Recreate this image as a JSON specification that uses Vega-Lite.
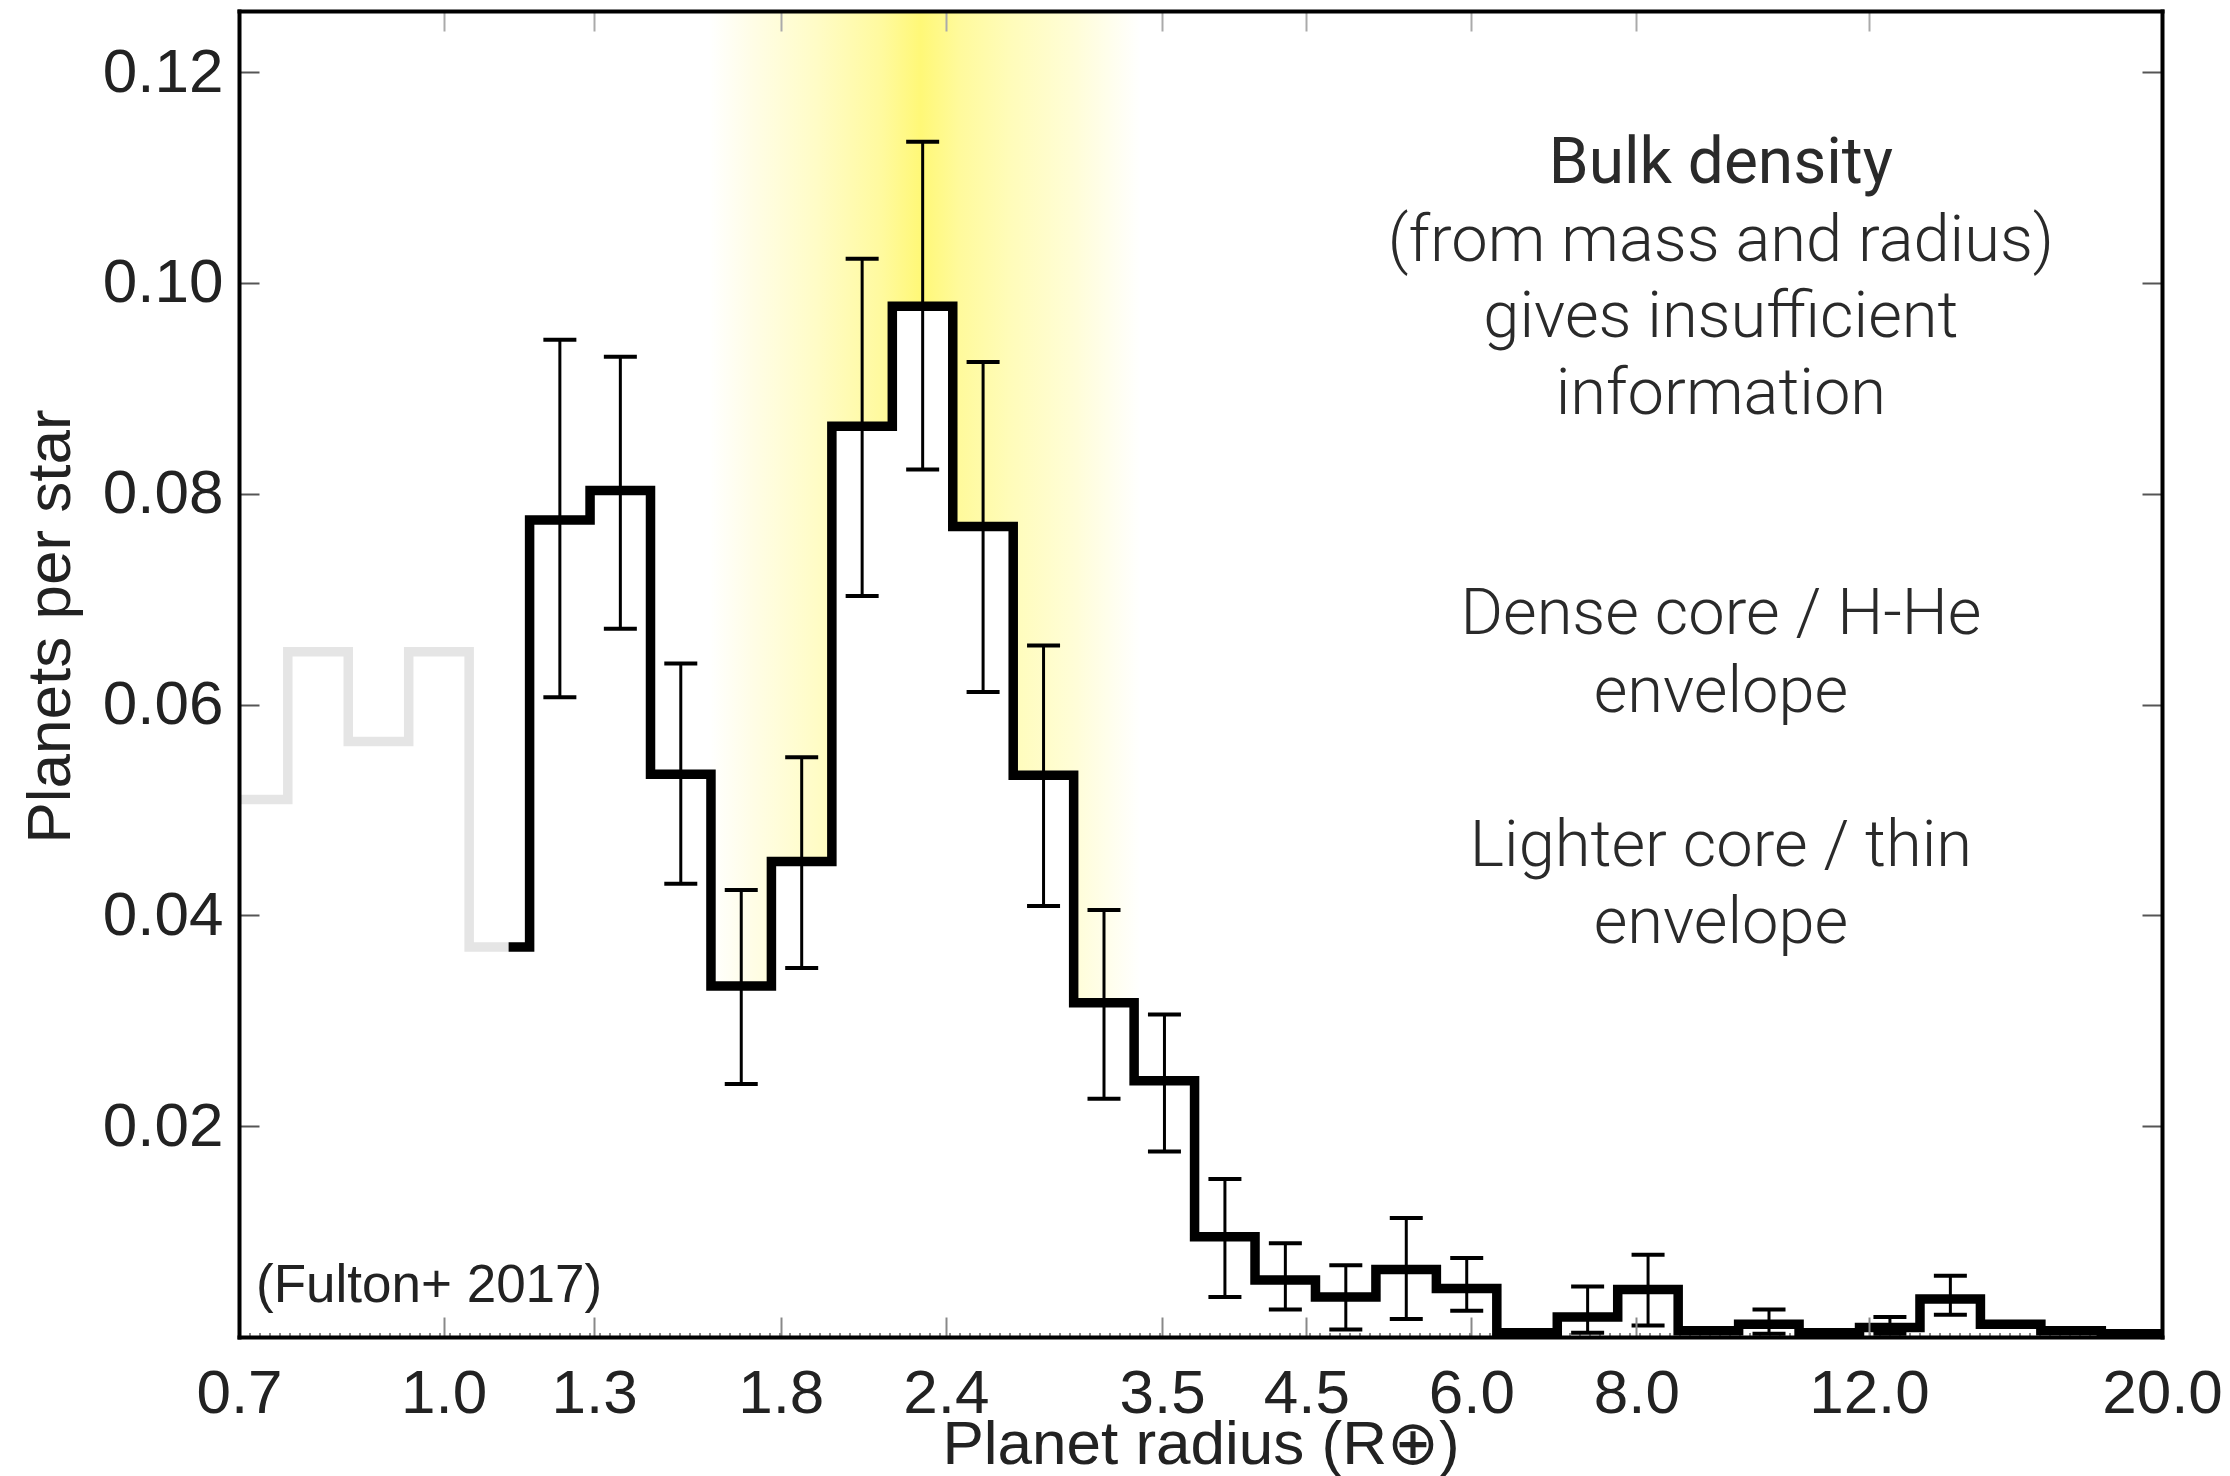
{
  "$schema": "https://vega.github.io/schema/vega-lite/v6.json",
  "width": 1923,
  "height": 1326,
  "autosize": {"type": "none"},
  "padding": {"left": 239, "top": 11, "right": 68, "bottom": 139},
  "background": "white",
  "config": {"view": {"stroke": null}, "font": "Liberation Sans"},
  "datasets": {
    "hist": [
      {"r": 0.68593, "n": 0.051, "s": "faded"},
      {"r": 0.76216, "n": 0.065, "s": "faded"},
      {"r": 0.84687, "n": 0.0565, "s": "faded"},
      {"r": 0.94099, "n": 0.065, "s": "faded"},
      {"r": 1.04557, "n": 0.037, "s": "faded"},
      {"r": 1.12, "n": 0.037, "s": "faded"},
      {"r": 1.12, "n": 0.037, "s": "measured"},
      {"r": 1.16177, "n": 0.0775, "s": "measured"},
      {"r": 1.29089, "n": 0.0803, "s": "measured"},
      {"r": 1.43436, "n": 0.0534, "s": "measured"},
      {"r": 1.59377, "n": 0.0333, "s": "measured"},
      {"r": 1.7709, "n": 0.0451, "s": "measured"},
      {"r": 1.96772, "n": 0.0864, "s": "measured"},
      {"r": 2.18641, "n": 0.0978, "s": "measured"},
      {"r": 2.4294, "n": 0.0769, "s": "measured"},
      {"r": 2.6994, "n": 0.0533, "s": "measured"},
      {"r": 2.99941, "n": 0.0317, "s": "measured"},
      {"r": 3.33276, "n": 0.0243, "s": "measured"},
      {"r": 3.70316, "n": 0.0095, "s": "measured"},
      {"r": 4.11472, "n": 0.0054, "s": "measured"},
      {"r": 4.57202, "n": 0.0038, "s": "measured"},
      {"r": 5.08015, "n": 0.0064, "s": "measured"},
      {"r": 5.64475, "n": 0.0046, "s": "measured"},
      {"r": 6.27209, "n": 0.0004, "s": "measured"},
      {"r": 6.96916, "n": 0.0019, "s": "measured"},
      {"r": 7.7437, "n": 0.0045, "s": "measured"},
      {"r": 8.60432, "n": 0.0006, "s": "measured"},
      {"r": 9.56058, "n": 0.0012, "s": "measured"},
      {"r": 10.6231, "n": 0.0004, "s": "measured"},
      {"r": 11.8037, "n": 0.0009, "s": "measured"},
      {"r": 13.1156, "n": 0.0036, "s": "measured"},
      {"r": 14.5732, "n": 0.0012, "s": "measured"},
      {"r": 16.1928, "n": 0.0006, "s": "measured"},
      {"r": 17.9925, "n": 0.0003, "s": "measured"},
      {"r": 20.0, "n": 0.0003, "s": "measured"}
    ],
    "err": [
      {"c": 1.2247, "n": 0.0775, "lo": 0.0607, "hi": 0.0946},
      {"c": 1.3609, "n": 0.0803, "lo": 0.0672, "hi": 0.093},
      {"c": 1.5121, "n": 0.0534, "lo": 0.043, "hi": 0.0639},
      {"c": 1.6802, "n": 0.0333, "lo": 0.024, "hi": 0.0424},
      {"c": 1.8669, "n": 0.0451, "lo": 0.035, "hi": 0.055},
      {"c": 2.0744, "n": 0.0864, "lo": 0.0703, "hi": 0.1023},
      {"c": 2.3052, "n": 0.0978, "lo": 0.0823, "hi": 0.1134},
      {"c": 2.5613, "n": 0.0769, "lo": 0.0612, "hi": 0.0925},
      {"c": 2.846, "n": 0.0533, "lo": 0.0409, "hi": 0.0656},
      {"c": 3.1623, "n": 0.0317, "lo": 0.0226, "hi": 0.0405},
      {"c": 3.5138, "n": 0.0243, "lo": 0.0176, "hi": 0.0306},
      {"c": 3.9044, "n": 0.0095, "lo": 0.0038, "hi": 0.015},
      {"c": 4.3382, "n": 0.0054, "lo": 0.0026, "hi": 0.0089},
      {"c": 4.8204, "n": 0.0038, "lo": 0.0007, "hi": 0.0068},
      {"c": 5.3562, "n": 0.0064, "lo": 0.0017, "hi": 0.0113},
      {"c": 5.9515, "n": 0.0046, "lo": 0.0025, "hi": 0.0075},
      {"c": 7.3479, "n": 0.0019, "lo": 0.0004, "hi": 0.0048},
      {"c": 8.1644, "n": 0.0045, "lo": 0.0011, "hi": 0.0078},
      {"c": 10.0807, "n": 0.0012, "lo": 0.0003, "hi": 0.0026},
      {"c": 12.4462, "n": 0.0009, "lo": 0.0003, "hi": 0.0019},
      {"c": 13.8293, "n": 0.0036, "lo": 0.0021, "hi": 0.0058}
    ],
    "notes": [
      {"x": 9.27, "y": 0.1113, "t": "Bulk density", "b": 1},
      {"x": 9.27, "y": 0.104, "t": "(from mass and radius)", "b": 0},
      {"x": 9.27, "y": 0.0968, "t": "gives insufficient", "b": 0},
      {"x": 9.27, "y": 0.0895, "t": "information", "b": 0},
      {"x": 9.27, "y": 0.0686, "t": "Dense core / H-He", "b": 0},
      {"x": 9.27, "y": 0.0612, "t": "envelope", "b": 0},
      {"x": 9.27, "y": 0.0466, "t": "Lighter core / thin", "b": 0},
      {"x": 9.27, "y": 0.0393, "t": "envelope", "b": 0}
    ]
  },
  "layer": [
    {
      "data": {"values": [{"lo": 1.59, "hi": 3.37, "b": 0, "t": 0.1258}]},
      "mark": {
        "type": "rect",
        "stroke": null,
        "fill": {
          "gradient": "linear", "x1": 0, "x2": 1, "y1": 0, "y2": 0,
          "stops": [
            {"offset": 0, "color": "#ffffff"},
            {"offset": 0.1, "color": "#fffde6"},
            {"offset": 0.25, "color": "#fffcc6"},
            {"offset": 0.4, "color": "#fffa9e"},
            {"offset": 0.49, "color": "#fff877"},
            {"offset": 0.58, "color": "#fffa9c"},
            {"offset": 0.7, "color": "#fffcba"},
            {"offset": 0.85, "color": "#fffdd8"},
            {"offset": 1, "color": "#ffffff"}
          ]
        }
      },
      "encoding": {
        "x": {
          "field": "lo", "type": "quantitative",
          "scale": {"type": "log", "domain": [0.7, 20], "nice": false},
          "axis": {
            "orient": "bottom", "zindex": 1,
            "values": [0.7, 1.0, 1.3, 1.8, 2.4, 3.5, 4.5, 6.0, 8.0, 12.0, 20.0],
            "format": ".1f", "grid": false,
            "domain": true, "domainColor": "#000", "domainWidth": 4, "domainCap": "square",
            "ticks": true, "tickSize": -20, "tickColor": "#888", "tickWidth": 2,
            "labelFont": "Liberation Sans", "labelFontSize": 62, "labelColor": "#222",
            "labelPadding": 46, "labelFlush": false, "labelOverlap": false,
            "title": "Planet radius (R⊕)", "titleFont": "Liberation Sans", "titleFontSize": 62,
            "titleFontWeight": "normal", "titleColor": "#222", "titlePadding": -10
          }
        },
        "x2": {"field": "hi"},
        "y": {
          "field": "b", "type": "quantitative",
          "scale": {"domain": [0, 0.1258], "nice": false, "zero": false},
          "axis": {
            "orient": "left", "zindex": 1,
            "values": [0.02, 0.04, 0.06, 0.08, 0.1, 0.12],
            "format": ".2f", "grid": false,
            "domain": true, "domainColor": "#000", "domainWidth": 4, "domainCap": "square",
            "ticks": true, "tickSize": -20, "tickColor": "#555", "tickWidth": 2,
            "labelFont": "Liberation Sans", "labelFontSize": 62, "labelColor": "#222",
            "labelPadding": 36,
            "title": "Planets per star", "titleFont": "Liberation Sans", "titleFontSize": 62,
            "titleFontWeight": "normal", "titleColor": "#222", "titlePadding": 20, "titleY": 615
          }
        },
        "y2": {"field": "t"}
      }
    },
    {
      "data": {"name": "hist"},
      "mark": {"type": "area", "interpolate": "step-after", "fill": "white", "clip": true},
      "encoding": {
        "x": {"field": "r", "type": "quantitative", "axis": null},
        "y": {"field": "n", "type": "quantitative", "axis": null, "stack": null},
        "detail": {"field": "s"}
      }
    },
    {
      "data": {"values": [{"a": 0.7, "b": 20, "z": 0}]},
      "mark": {"type": "rule", "strokeDash": [2, 8], "color": "#8a8a8a", "strokeWidth": 8, "clip": true},
      "encoding": {
        "x": {
          "field": "a", "type": "quantitative",
          "axis": {
            "orient": "top", "zindex": 1, "title": null, "labels": false, "grid": false,
            "values": [0.7, 1.0, 1.3, 1.8, 2.4, 3.5, 4.5, 6.0, 8.0, 12.0, 20.0],
            "domain": true, "domainColor": "#000", "domainWidth": 4, "domainCap": "square",
            "ticks": true, "tickSize": -20, "tickColor": "#aaa", "tickWidth": 2
          }
        },
        "x2": {"field": "b"},
        "y": {
          "field": "z", "type": "quantitative",
          "axis": {
            "orient": "right", "zindex": 1, "title": null, "labels": false, "grid": false,
            "values": [0.02, 0.04, 0.06, 0.08, 0.1, 0.12],
            "domain": true, "domainColor": "#000", "domainWidth": 4, "domainCap": "square",
            "ticks": true, "tickSize": -20, "tickColor": "#555", "tickWidth": 2
          }
        }
      }
    },
    {
      "data": {"name": "hist"},
      "mark": {"type": "line", "interpolate": "step-after", "strokeWidth": 9.5, "clip": true, "strokeJoin": "miter", "strokeCap": "butt"},
      "encoding": {
        "x": {"field": "r", "type": "quantitative", "axis": null},
        "y": {"field": "n", "type": "quantitative", "axis": null},
        "color": {
          "field": "s", "type": "nominal",
          "scale": {"domain": ["faded", "measured"], "range": ["#e5e5e5", "#000000"]},
          "legend": null
        }
      }
    },
    {
      "data": {"name": "err"},
      "mark": {"type": "rule", "color": "#000", "strokeWidth": 3},
      "encoding": {
        "x": {"field": "c", "type": "quantitative", "axis": null},
        "y": {"field": "lo", "type": "quantitative", "axis": null},
        "y2": {"field": "hi"}
      }
    },
    {
      "data": {"name": "err"},
      "mark": {"type": "tick", "orient": "horizontal", "size": 33, "thickness": 4, "color": "#000", "opacity": 1},
      "encoding": {
        "x": {"field": "c", "type": "quantitative", "axis": null},
        "y": {"field": "lo", "type": "quantitative", "axis": null}
      }
    },
    {
      "data": {"name": "err"},
      "mark": {"type": "tick", "orient": "horizontal", "size": 33, "thickness": 4, "color": "#000", "opacity": 1},
      "encoding": {
        "x": {"field": "c", "type": "quantitative", "axis": null},
        "y": {"field": "hi", "type": "quantitative", "axis": null}
      }
    },
    {
      "data": {"name": "err"},
      "mark": {"type": "point", "filled": true, "size": 60, "color": "#000", "opacity": 1},
      "encoding": {
        "x": {"field": "c", "type": "quantitative", "axis": null},
        "y": {"field": "n", "type": "quantitative", "axis": null}
      }
    },
    {
      "data": {"name": "notes"},
      "transform": [{"filter": "datum.b == 0"}],
      "mark": {"type": "text", "font": "Roboto", "fontWeight": 300, "fontSize": 65, "color": "#2a2a2a", "align": "center", "baseline": "middle"},
      "encoding": {
        "x": {"field": "x", "type": "quantitative", "axis": null},
        "y": {"field": "y", "type": "quantitative", "axis": null},
        "text": {"field": "t"}
      }
    },
    {
      "data": {"name": "notes"},
      "transform": [{"filter": "datum.b == 1"}],
      "mark": {"type": "text", "font": "Roboto", "fontWeight": 400, "fontSize": 64, "color": "#2a2a2a", "align": "center", "baseline": "middle"},
      "encoding": {
        "x": {"field": "x", "type": "quantitative", "axis": null},
        "y": {"field": "y", "type": "quantitative", "axis": null},
        "text": {"field": "t"}
      }
    },
    {
      "data": {"values": [{"x": 0.7211, "y": 0.0048, "t": "(Fulton+ 2017)"}]},
      "mark": {"type": "text", "font": "Liberation Sans", "fontSize": 53, "color": "#222", "align": "left", "baseline": "middle"},
      "encoding": {
        "x": {"field": "x", "type": "quantitative", "axis": null},
        "y": {"field": "y", "type": "quantitative", "axis": null},
        "text": {"field": "t"}
      }
    }
  ],
  "resolve": {"axis": {"x": "independent", "y": "independent"}}
}
